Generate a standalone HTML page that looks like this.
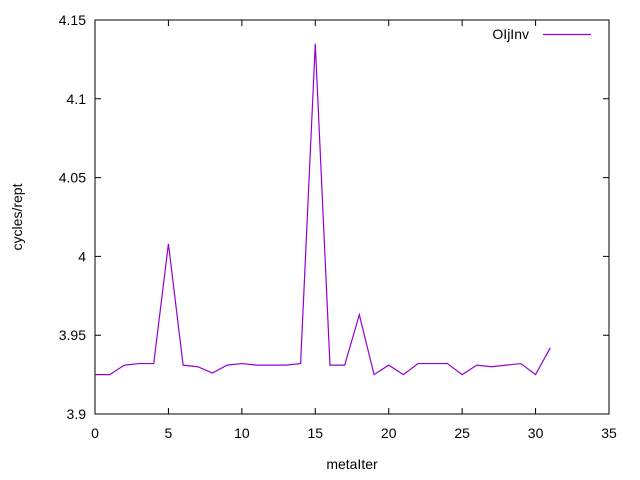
<!DOCTYPE html>
<html><head><meta charset="utf-8"><style>
body{margin:0;background:#fff}
svg{display:block;font-family:"Liberation Sans",sans-serif;font-size:14px}
</style></head><body>
<svg id="chart" width="640" height="480"></svg>
<script>
const xTicks=[0,5,10,15,20,25,30,35];
const yTicks=[3.9,3.95,4,4.05,4.1,4.15];
const yTickLabels=["3.9","3.95","4","4.05","4.1","4.15"];
const xValues=[0,1,2,3,4,5,6,7,8,9,10,11,12,13,14,15,16,17,18,19,20,21,22,23,24,25,26,27,28,29,30,31];
const yValues=[3.925,3.925,3.931,3.932,3.932,4.008,3.931,3.930,3.926,3.931,3.932,3.931,3.931,3.931,3.932,4.135,3.931,3.931,3.963,3.925,3.931,3.925,3.932,3.932,3.932,3.925,3.931,3.930,3.931,3.932,3.925,3.942];
const L=95,R=609,T=20,B=414;
const sx=v=>L+(v-0)/(35-0)*(R-L);
const sy=v=>B-(v-3.9)/(4.15-3.9)*(B-T);
const svg=document.getElementById('chart');
const NS='http://www.w3.org/2000/svg';
function mk(t,a,p){const e=document.createElementNS(NS,t);for(const k in a)e.setAttribute(k,a[k]);(p||svg).appendChild(e);return e;}
const frame=mk('rect',{x:L,y:T,width:R-L,height:B-T,fill:'none',stroke:'#000','stroke-width':1});


xTicks.forEach(v=>{
  const x=sx(v);
  const t=mk('path',{d:`M${x},${B}v-6M${x},${T}v6`,stroke:'#000'});
  
  
  const l=mk('text',{x:x,y:B+24,'text-anchor':'middle'});l.textContent=v;
  
  
});
yTicks.forEach((v,i)=>{
  const y=sy(v);
  const t=mk('path',{d:`M${L},${y}h6M${R},${y}h-6`,stroke:'#000'});
  
  
  const l=mk('text',{x:L-9,y:y+5,'text-anchor':'end'});l.textContent=yTickLabels[i];
  
  
});
const xt=mk('text',{x:(L+R)/2,y:469,'text-anchor':'middle'});xt.textContent='metaIter';


const yt=mk('text',{x:22,y:217,'text-anchor':'middle',transform:'rotate(-90 22 217)'});yt.textContent='cycles/rept';


const line=mk('polyline',{points:xValues.map((x,i)=>sx(x)+','+sy(yValues[i])).join(' '),fill:'none',stroke:'#9400d3','stroke-width':1.2});


const lt=mk('text',{x:529,y:39,'text-anchor':'end'});lt.textContent='OIjInv';


const ls=mk('path',{d:'M543,34.5h48',stroke:'#9400d3','stroke-width':1.2});


</script>
</body></html>
